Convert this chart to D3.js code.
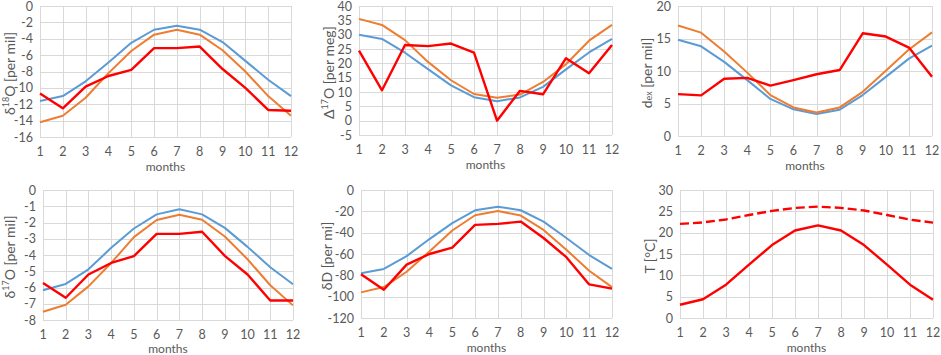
<!DOCTYPE html>
<html>
<head>
<meta charset="utf-8">
<script src="https://cdn.jsdelivr.net/npm/d3@7"></script>
<style>
  body { margin: 0; background: #fff; }
  svg text { font-family: Lato, "Open Sans", sans-serif; fill: #595959; }
</style>
</head>
<body>
<svg id="chart" width="941" height="355"></svg>
<script>
// months on the x axis
const months = [1, 2, 3, 4, 5, 6, 7, 8, 9, 10, 11, 12];

// d18O [per mil]
const d18Oblue   = [-11.6, -11.0, -9.2, -6.9, -4.5, -2.9, -2.4, -2.9, -4.4, -6.7, -9.0, -11.0];
const d18Oorange = [-14.2, -13.4, -11.2, -8.2, -5.5, -3.5, -2.9, -3.5, -5.4, -8.0, -11.0, -13.4];
const d18Ored    = [-10.7, -12.5, -9.85, -8.55, -7.8, -5.15, -5.15, -4.95, -7.7, -10.0, -12.7, -12.8];

// D17O [per meg]
const D17Oblue   = [30.0, 28.5, 23.7, 18.0, 12.3, 8.2, 6.8, 8.1, 11.8, 17.9, 23.8, 28.5];
const D17Oorange = [35.5, 33.4, 28.1, 20.5, 14.1, 9.3, 8.0, 9.1, 13.5, 19.7, 27.9, 33.4];
const D17Ored    = [24.4, 10.6, 26.4, 26.0, 26.9, 23.7, 0.0, 10.4, 9.2, 21.8, 16.5, 26.4];

// d-excess [per mil]
const dexBlue   = [14.8, 13.8, 11.4, 8.6, 5.7, 4.1, 3.4, 4.05, 6.3, 9.1, 11.9, 13.9];
const dexOrange = [17.0, 15.9, 13.0, 9.75, 6.3, 4.4, 3.6, 4.4, 6.8, 10.05, 13.3, 15.95];
const dexRed    = [6.45, 6.25, 8.8, 8.95, 7.75, 8.6, 9.5, 10.15, 15.8, 15.3, 13.6, 9.1];

// d17O [per mil]
const d17Oblue   = [-6.17, -5.78, -4.88, -3.56, -2.37, -1.5, -1.19, -1.5, -2.33, -3.5, -4.75, -5.8];
const d17Oorange = [-7.49, -7.06, -5.93, -4.49, -2.9, -1.85, -1.52, -1.83, -2.86, -4.26, -5.86, -7.1];
const d17Ored    = [-5.72, -6.63, -5.2, -4.49, -4.07, -2.7, -2.7, -2.57, -4.05, -5.2, -6.8, -6.8];

// dD [per mil]
const dDblue   = [-78, -74, -62, -46, -31, -19, -15.6, -19, -29.6, -45, -61, -74];
const dDorange = [-96, -91, -76.6, -57.6, -38, -23.7, -19.6, -24, -37.4, -56, -75.7, -91];
const dDred    = [-79, -93.5, -70, -60, -54, -32.7, -31.8, -29.6, -45, -63, -88.5, -92.5];

// temperature [C]
const tempSolid  = [3.1, 4.4, 7.8, 12.5, 17.1, 20.5, 21.7, 20.5, 17.1, 12.5, 7.8, 4.3];
const tempDashed = [22.05, 22.4, 23.1, 24.15, 25.1, 25.8, 26.1, 25.8, 25.2, 24.15, 23.05, 22.35];

// y axis ticks per panel
const ticks18 = [0, -2, -4, -6, -8, -10, -12, -14, -16];
const ticksD17 = [40, 35, 30, 25, 20, 15, 10, 5, 0, -5];
const ticksDex = [20, 15, 10, 5, 0];
const ticks17 = [0, -1, -2, -3, -4, -5, -6, -7, -8];
const ticksDD = [0, -20, -40, -60, -80, -100, -120];
const ticksT = [30, 25, 20, 15, 10, 5, 0];

const BLUE = '#5b9bd5', ORANGE = '#ed7d31', RED = '#ff0000';

const svg = d3.select('#chart');

function drawPanel(p) {
    let g = svg.append('g');

    let x = d3.scaleLinear().domain([1, 12]).range([p.left, p.right]);
    let y = d3.scaleLinear().domain(d3.extent(p.ticks)).range([p.bottom, p.top]);

    // grid
    g.selectAll('.hgrid').data(p.ticks).enter().append('line')
        .attr('x1', p.left).attr('x2', p.right)
        .attr('y1', d => Math.round(y(d)) + 0.5).attr('y2', d => Math.round(y(d)) + 0.5)
        .attr('stroke', '#d9d9d9').attr('stroke-width', 1);
    g.selectAll('.vgrid').data(months).enter().append('line')
        .attr('y1', p.top).attr('y2', p.bottom)
        .attr('x1', d => Math.round(x(d)) + 0.5).attr('x2', d => Math.round(x(d)) + 0.5)
        .attr('stroke', '#d9d9d9').attr('stroke-width', 1);

    // y tick labels
    g.selectAll('.ytl').data(p.ticks).enter().append('text')
        .attr('x', p.left - 7).attr('y', d => y(d) + 4.5)
        .attr('text-anchor', 'end').attr('font-size', 12.5)
        .text(d => d);

    // x tick labels
    g.selectAll('.xtl').data(months).enter().append('text')
        .attr('x', d => x(d)).attr('y', p.bottom + 19)
        .attr('text-anchor', 'middle').attr('font-size', 12.5)
        .text(d => d);

    g.append('text')
        .attr('x', (p.left + p.right) / 2).attr('y', Math.min(p.bottom + 34, 353))
        .attr('text-anchor', 'middle').attr('font-size', 12)
        .text('months');

    // y label
    let lab = g.append('text')
        .attr('transform', `translate(${p.labelX},${(p.top + p.bottom) / 2 + 2}) rotate(-90)`)
        .attr('text-anchor', 'middle').attr('dominant-baseline', 'central')
        .attr('font-size', 14);
    p.label.forEach(part => {
        let t = lab.append('tspan').text(part.t);
        if (part.sup) t.attr('font-size', 9).attr('baseline-shift', '35%');
        if (part.sub) t.attr('font-size', 9).attr('baseline-shift', '-25%');
    });

    let line = d3.line().x((d, i) => x(months[i])).y(d => y(d));
    p.series.forEach(s => {
        g.append('path')
            .attr('d', line(s.values))
            .attr('fill', 'none')
            .attr('stroke', s.color)
            .attr('stroke-width', s.width || 2)
            .attr('stroke-dasharray', s.dash || null)
            .attr('stroke-linejoin', 'round');
    });
}

drawPanel({
    left: 40, right: 291, top: 6, bottom: 137, labelX: 9, ticks: ticks18,
    label: [{t: 'δ'}, {t: '18', sup: true}, {t: 'O [per mil]'}],
    series: [{values: d18Oblue, color: BLUE}, {values: d18Oorange, color: ORANGE}, {values: d18Ored, color: RED, width: 2.4}]
});
drawPanel({
    left: 359, right: 612, top: 6, bottom: 135, labelX: 328, ticks: ticksD17,
    label: [{t: 'Δ'}, {t: '17', sup: true}, {t: 'O [per meg]'}],
    series: [{values: D17Oblue, color: BLUE}, {values: D17Oorange, color: ORANGE}, {values: D17Ored, color: RED, width: 2.4}]
});
drawPanel({
    left: 678, right: 932, top: 6, bottom: 136, labelX: 646, ticks: ticksDex,
    label: [{t: 'd'}, {t: 'ex', sub: true}, {t: ' [per mil]'}],
    series: [{values: dexBlue, color: BLUE}, {values: dexOrange, color: ORANGE}, {values: dexRed, color: RED, width: 2.4}]
});
drawPanel({
    left: 43, right: 293, top: 190, bottom: 320, labelX: 9, ticks: ticks17,
    label: [{t: 'δ'}, {t: '17', sup: true}, {t: 'O [per mil]'}],
    series: [{values: d17Oblue, color: BLUE}, {values: d17Oorange, color: ORANGE}, {values: d17Ored, color: RED, width: 2.4}]
});
drawPanel({
    left: 361, right: 612, top: 190, bottom: 318, labelX: 326, ticks: ticksDD,
    label: [{t: 'δD [per mi]'}],
    series: [{values: dDblue, color: BLUE}, {values: dDorange, color: ORANGE}, {values: dDred, color: RED, width: 2.4}]
});
drawPanel({
    left: 680, right: 933, top: 190, bottom: 318, labelX: 649, ticks: ticksT,
    label: [{t: 'T [°C]'}],
    series: [{values: tempDashed, color: RED, width: 2.4, dash: '9,4'}, {values: tempSolid, color: RED, width: 2.4}]
});
</script>
</body>
</html>
